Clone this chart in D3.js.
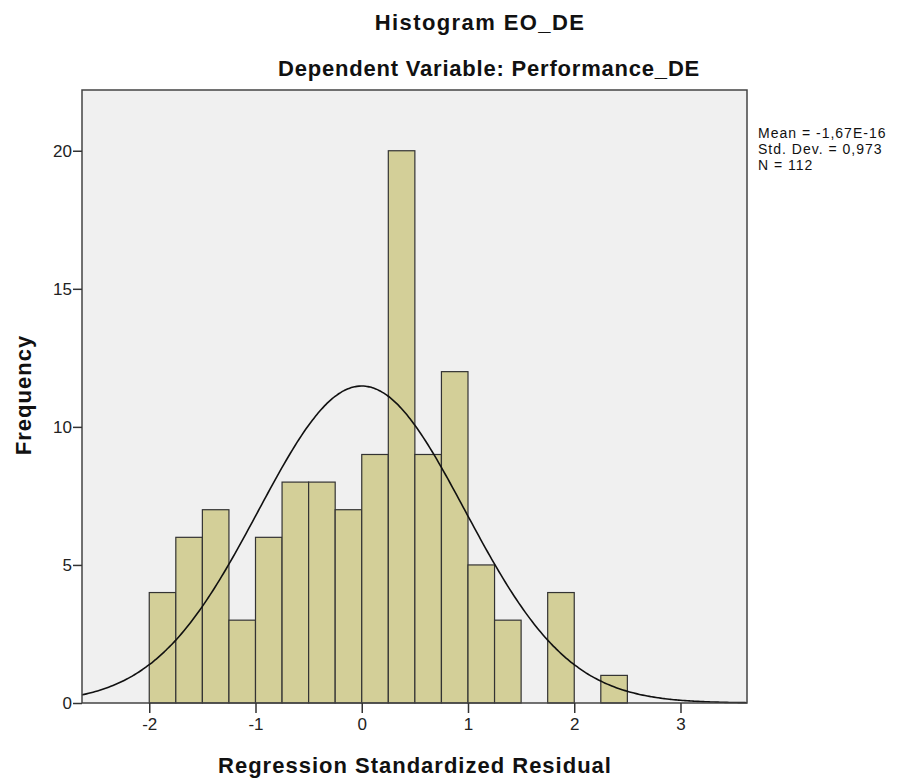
<!DOCTYPE html>
<html>
<head>
<meta charset="utf-8">
<script src="https://cdn.jsdelivr.net/npm/d3@7"></script>
<style>
body { margin: 0; background: #fff; }
text { font-family: "Liberation Sans", Arial, sans-serif; }
.title { font-size: 22px; font-weight: bold; fill: #111; }
.axis-label { font-size: 22px; font-weight: bold; letter-spacing: 1px; fill: #111; }
.tick text { font-size: 17px; fill: #222; font-family: "Liberation Sans", Arial, sans-serif; }
.stats { font-size: 14px; fill: #111; letter-spacing: 1px; }
</style>
</head>
<body>
<svg id="chart" width="900" height="781"></svg>
<script>
// bins are 0.25 wide, starting at -2
var binStarts = [-2, -1.75, -1.5, -1.25, -1, -0.75, -0.5, -0.25, 0, 0.25, 0.5, 0.75, 1, 1.25, 1.5, 1.75, 2, 2.25];
var counts = [4, 6, 7, 3, 6, 8, 8, 7, 9, 20, 9, 12, 5, 3, 0, 4, 0, 1];
var binWidth = 0.25;
var xTicks = [-2, -1, 0, 1, 2, 3];
var yTicks = [0, 5, 10, 15, 20];
var meanVal = -1.67e-16, sdVal = 0.973, nVal = 112;
var statLines = ["Mean = -1,67E-16", "Std. Dev. = 0,973", "N = 112"];

var margin = {top: 90, right: 153, bottom: 78, left: 82};
var width = 900 - margin.left - margin.right,
    height = 781 - margin.top - margin.bottom;

var xScale = d3.scaleLinear().domain([-2.633, 3.626]).range([0, width]);
var yScale = d3.scaleLinear().domain([0, 22.2]).range([height, 0]);

var svg = d3.select("#chart");
var g = svg.append("g")
    .attr("transform", "translate(" + margin.left + "," + margin.top + ")");

g.append("rect")
    .attr("width", width)
    .attr("height", height)
    .attr("fill", "#f0f0f0");

var bins = binStarts.map(function(s, i) { return {x0: s, x1: s + binWidth, n: counts[i]}; })
    .filter(function(d) { return d.n > 0; });

g.selectAll(".bar")
    .data(bins)
    .enter().append("rect")
    .attr("class", "bar")
    .attr("x", function(d) { return xScale(d.x0); })
    .attr("width", function(d) { return xScale(d.x1) - xScale(d.x0); })
    .attr("y", function(d) { return yScale(d.n); })
    .attr("height", function(d) { return yScale(0) - yScale(d.n); })
    .attr("fill", "#d3cf98")
    .attr("stroke", "#333")
    .attr("stroke-width", 1.2);

// fitted normal curve scaled to counts
var curvePts = d3.range(0, 301).map(function(i) {
    var x = -2.633 + i * (3.626 + 2.633) / 300;
    var z = (x - meanVal) / sdVal;
    return {x: x, y: nVal * binWidth * Math.exp(-0.5 * z * z) / (sdVal * Math.sqrt(2 * Math.PI))};
});

var line = d3.line()
    .x(function(d) { return xScale(d.x); })
    .y(function(d) { return yScale(d.y); })
    .curve(d3.curveBasis);

g.append("path")
    .datum(curvePts)
    .attr("d", line)
    .attr("fill", "none")
    .attr("stroke", "#111")
    .attr("stroke-width", 1.6);

g.append("rect")
    .attr("width", width)
    .attr("height", height)
    .attr("fill", "none")
    .attr("stroke", "#444")
    .attr("stroke-width", 1.5);

var xAxis = d3.axisBottom(xScale).tickValues(xTicks).tickSize(10).tickSizeOuter(0)
    .tickFormat(function(d) { return String(d); });
var yAxis = d3.axisLeft(yScale).tickValues(yTicks).tickSize(9).tickSizeOuter(0)
    .tickFormat(function(d) { return String(d); });

var gx = g.append("g")
    .attr("transform", "translate(0," + height + ")")
    .call(xAxis);
gx.select(".domain").remove();
gx.selectAll(".tick line").attr("stroke", "#333").attr("stroke-width", 1.5);
gx.selectAll(".tick text").attr("y", 15);

var gy = g.append("g").call(yAxis);
gy.select(".domain").remove();
gy.selectAll(".tick line").attr("stroke", "#333").attr("stroke-width", 1.5);
gy.selectAll(".tick text").attr("x", -10);

svg.append("text")
    .attr("class", "title")
    .attr("x", 480)
    .attr("y", 30)
    .attr("text-anchor", "middle")
    .style("letter-spacing", "1.4px")
    .text("Histogram EO_DE");

svg.append("text")
    .attr("class", "title")
    .attr("x", 489)
    .attr("y", 76)
    .attr("text-anchor", "middle")
    .style("letter-spacing", "0.8px")
    .text("Dependent Variable: Performance_DE");

svg.append("text")
    .attr("class", "axis-label")
    .attr("x", 415)
    .attr("y", 773)
    .attr("text-anchor", "middle")
    .text("Regression Standardized Residual");

svg.append("text")
    .attr("class", "axis-label")
    .attr("transform", "translate(31,395) rotate(-90)")
    .attr("text-anchor", "middle")
    .text("Frequency");

svg.selectAll(".stats")
    .data(statLines)
    .enter().append("text")
    .attr("class", "stats")
    .attr("x", 758)
    .attr("y", function(d, i) { return 138 + i * 16; })
    .text(function(d) { return d; });
</script>
</body>
</html>
